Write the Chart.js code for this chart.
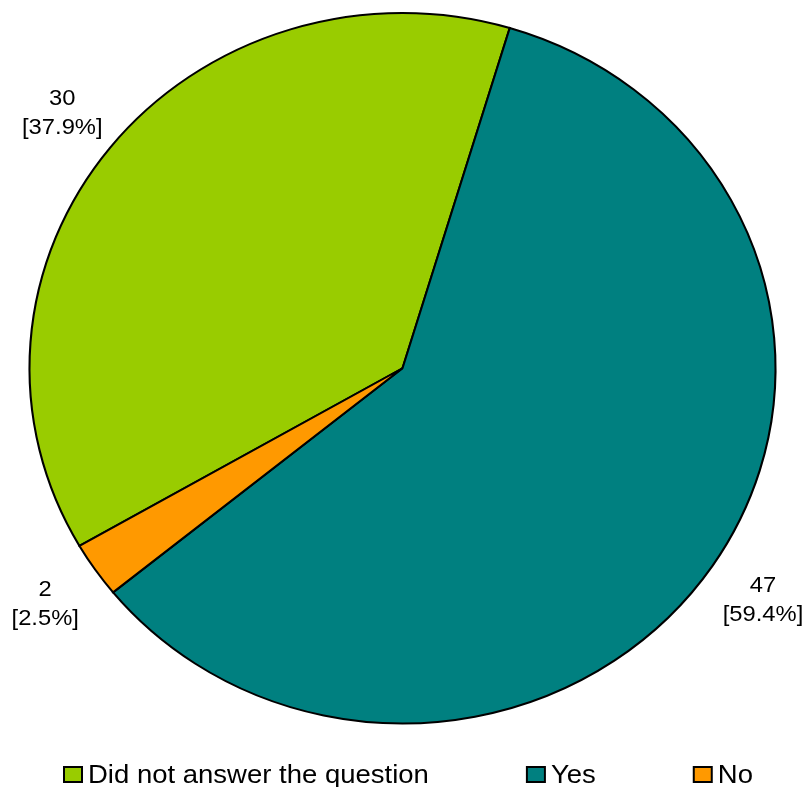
<!DOCTYPE html>
<html>
<head>
<meta charset="utf-8">
<script src="https://cdn.jsdelivr.net/npm/chart.js@4"></script>
<style>
  body { margin: 0; background: #fff; }
</style>
</head>
<body>
<canvas id="pie" width="810" height="787"></canvas>
<script>
const labels = ['Did not answer the question', 'Yes', 'No'];
const counts = [30, 47, 2];
const colors = ['#99CC00', '#008080', '#FF9900'];

const FONT = '"Liberation Sans", Arial, sans-serif';
const pieStretch = 1.05;   // pie is a little wider than tall
const labelStretch = 1.08;
const legendStretch = 1.1;

function pctText(v) {
  const total = counts.reduce((a, b) => a + b, 0);
  // percentages are cut, not rounded, to one decimal
  return '[' + (Math.floor(v / total * 1000) / 10).toFixed(1) + '%]';
}

// widen the pie around its centre, then write value labels outside each slice
const ellipse = {
  id: 'ellipse',
  beforeDatasetsDraw(chart) {
    const arc = chart.getDatasetMeta(0).data[0];
    const ctx = chart.ctx;
    ctx.save();
    ctx.translate(arc.x, arc.y);
    ctx.scale(pieStretch, 1);
    ctx.translate(-arc.x, -arc.y);
  },
  afterDatasetsDraw(chart) {
    const ctx = chart.ctx;
    ctx.restore();

    ctx.save();
    ctx.font = '22px ' + FONT;
    ctx.fillStyle = '#000';
    ctx.textAlign = 'center';
    ctx.textBaseline = 'alphabetic';
    chart.getDatasetMeta(0).data.forEach((arc, i) => {
      const mid = (arc.startAngle + arc.endAngle) / 2;
      const r = arc.outerRadius * 1.163;
      const x = arc.x + Math.cos(mid) * r * pieStretch;
      const y = arc.y + Math.sin(mid) * r;
      const lines = [String(counts[i]), pctText(counts[i])];
      lines.forEach((t, j) => {
        ctx.save();
        ctx.translate(x, y + (j - 0.5) * 29 + 8);
        ctx.scale(labelStretch, 1);
        ctx.fillText(t, 0, 0);
        ctx.restore();
      });
    });
    ctx.restore();
  }
};

// legend row under the pie
const bottomLegend = {
  id: 'bottomLegend',
  afterDraw(chart) {
    const ctx = chart.ctx;
    ctx.save();
    ctx.font = '25px ' + FONT;
    ctx.textBaseline = 'alphabetic';
    let x = 63;
    labels.forEach((lab, i) => {
      ctx.fillStyle = colors[i];
      ctx.fillRect(x + 1, 767, 18, 15);
      ctx.strokeStyle = '#000';
      ctx.lineWidth = 2;
      ctx.strokeRect(x + 1, 767, 18, 15);

      const tx = x + 25;
      ctx.save();
      ctx.translate(tx, 783);
      ctx.scale(legendStretch, 1);
      ctx.fillStyle = '#000';
      ctx.fillText(lab, 0, 0);
      ctx.restore();
      x = tx + ctx.measureText(lab).width * legendStretch + 97;
    });
    ctx.restore();
  }
};

new Chart(document.getElementById('pie'), {
  type: 'pie',
  data: {
    labels: labels,
    datasets: [{
      data: counts,
      backgroundColor: colors,
      borderColor: '#000',
      borderWidth: 2,
      borderJoinStyle: 'miter'
    }]
  },
  options: {
    responsive: false,
    animation: false,
    rotation: -120,
    layout: { padding: { top: 12, bottom: 62.5, left: 0, right: 5 } },
    plugins: {
      legend: { display: false },
      tooltip: { enabled: false }
    }
  },
  plugins: [ellipse, bottomLegend]
});
</script>
</body>
</html>
